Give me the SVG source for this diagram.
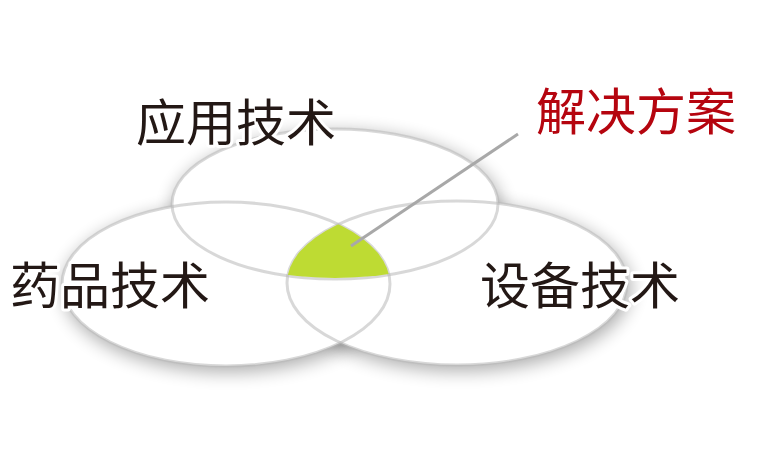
<svg xmlns="http://www.w3.org/2000/svg" width="762" height="466" viewBox="0 0 762 466">
  <style>
    .sh { fill: #000; opacity: 0.32; filter: url(#blur); }
    .fill { fill: #fff; }
    .ol { fill: none; stroke: #b8b8b8; stroke-opacity: 0.55; stroke-width: 3; }
    .lbl { font-family: "Noto Sans CJK SC", "Noto Sans", sans-serif; font-size: 50px; fill: #231815; stroke: #fff; stroke-width: 6; paint-order: stroke; stroke-linejoin: round; }
    .sol { fill: #b5050f; }
  </style>
  <defs>
    <filter id="blur" x="-25%" y="-40%" width="150%" height="180%">
      <feGaussianBlur stdDeviation="9"/>
    </filter>
    <clipPath id="cL"><ellipse cx="226" cy="284" rx="164" ry="82"/></clipPath>
    <clipPath id="cR"><ellipse cx="457" cy="283" rx="170" ry="82"/></clipPath>
  </defs>
  <rect width="762" height="466" fill="#fff"/>
  <g id="shadows">
    <ellipse class="sh" cx="337" cy="208" rx="164" ry="76"/>
    <ellipse class="sh" cx="228" cy="289" rx="165" ry="83"/>
    <ellipse class="sh" cx="460" cy="288" rx="171" ry="83"/>
  </g>
  <g id="fills">
    <ellipse class="fill" cx="335" cy="204" rx="163" ry="75"/>
    <ellipse class="fill" cx="226" cy="284" rx="164" ry="82"/>
    <ellipse class="fill" cx="457" cy="283" rx="170" ry="82"/>
  </g>
  <g id="node-app">
    <ellipse class="ol" cx="335" cy="204" rx="163" ry="75"/>
  </g>
  <g id="node-drug">
    <ellipse class="ol" cx="226" cy="284" rx="164" ry="82"/>
  </g>
  <g id="node-device">
    <ellipse class="ol" cx="457" cy="283" rx="170" ry="82"/>
  </g>
  <g id="node-solution-area" clip-path="url(#cL)">
    <ellipse cx="335" cy="204" rx="163" ry="74" fill="#bedb33" clip-path="url(#cR)"/>
  </g>
  <g id="connectors">
    <line x1="351" y1="246" x2="518" y2="134" stroke="#a8a8a8" stroke-width="3"/>
  </g>
  <g id="labels">
    <text class="lbl" x="136" y="141">应用技术</text>
    <text class="lbl" x="10" y="304">药品技术</text>
    <text class="lbl" x="480" y="304">设备技术</text>
    <text class="lbl sol" x="536" y="130">解决方案</text>
  </g>
</svg>
